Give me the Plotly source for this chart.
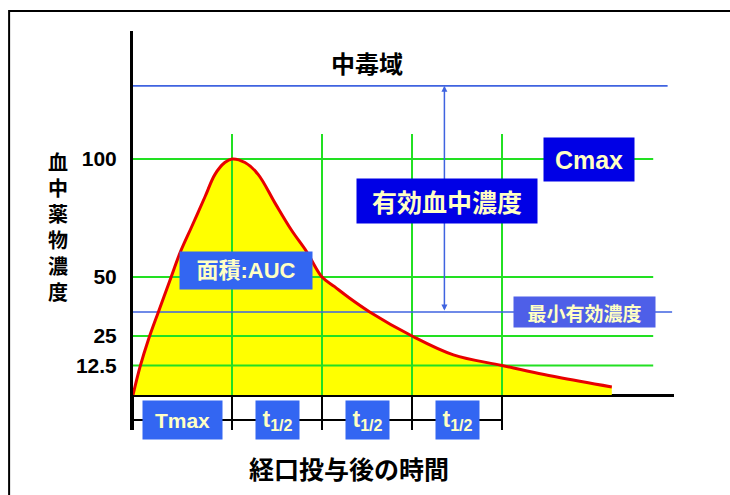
import plotly.graph_objects as go

# Plasma concentration after an oral dose (time in arbitrary units, concentration in % of Cmax)
time_pts = [0.0, 0.078, 0.17, 0.28, 0.41, 0.52, 0.652, 0.80, 0.911, 1.02, 1.1,
            1.244, 1.39, 1.58, 1.76, 1.93, 2.1, 2.24, 2.39, 2.63, 3.1, 3.56, 4.1, 4.71, 5.32]
conc_pts = [0.0, 11.9, 23.3, 35.0, 48.5, 60.0, 71.3, 84.0, 93.5, 98.5, 100.0,
            98.5, 93.5, 81.2, 69.9, 60.7, 50.0, 45.9, 41.5, 35.2, 25.0, 17.0, 12.5, 7.6, 3.4]

# Concentration gridlines and their labels
conc_ticks = [100, 50, 25, 12.5]
tick_labels = ["100", "50", "25", "12.5"]

# Time markers: Tmax followed by three elimination half-lives
phase_edges = [0.0, 1.1, 2.1, 3.1, 4.1]
phase_labels = ["Tmax", "t<sub>1/2</sub>", "t<sub>1/2</sub>", "t<sub>1/2</sub>"]

# Therapeutic window limits
toxic_level = 131.0   # lower edge of the toxic range
mec_level = 35.2      # minimum effective concentration

GREEN = "#22E022"
LINE_BLUE = "#3F63E0"
DARK_BLUE = "#0000E6"
MID_BLUE = "#3366F2"
MEC_BLUE = "#4E5FE8"
PALE = "#FFFFC4"
LATIN = "Liberation Sans, Noto Sans CJK JP"
CJK = "Noto Sans CJK JP"

Y_MIN, Y_MAX = -14.83, 154.24
X_MIN, X_MAX = 0.0, 6.011
grid_right = 5.78
vgrid_top = 110.6
bracket_y = -10.6
SMOOTH = 1.0

fig = go.Figure()

# Area under the curve
fig.add_trace(go.Scatter(
    x=time_pts, y=conc_pts, mode="lines",
    line=dict(width=0, shape="spline", smoothing=SMOOTH),
    fill="tozeroy", fillcolor="#FFFF00", hoverinfo="skip", showlegend=False))

# Green reference grid
gx, gy = [], []
for lv in conc_ticks:
    gx += [0, grid_right, None]
    gy += [lv, lv, None]
for e in phase_edges[1:]:
    gx += [e, e, None]
    gy += [0, vgrid_top, None]
fig.add_trace(go.Scatter(x=gx, y=gy, mode="lines", line=dict(color=GREEN, width=2),
                         hoverinfo="skip", showlegend=False))

# Toxic threshold and minimum effective concentration
fig.add_trace(go.Scatter(
    x=[0, 5.94, None, 0, 5.99], y=[toxic_level, toxic_level, None, mec_level, mec_level],
    mode="lines", line=dict(color=LINE_BLUE, width=1.6), hoverinfo="skip", showlegend=False))

# Concentration curve
fig.add_trace(go.Scatter(
    x=time_pts, y=conc_pts, mode="lines",
    line=dict(color="#E80000", width=3, shape="spline", smoothing=SMOOTH),
    hoverinfo="skip", showlegend=False))

# Time bracket under the axis
bx = [phase_edges[0], phase_edges[-1], None]
by = [bracket_y, bracket_y, None]
for e in phase_edges:
    bx += [e, e, None]
    by += [0, Y_MIN, None]
fig.add_trace(go.Scatter(x=bx, y=by, mode="lines", line=dict(color="black", width=2),
                         hoverinfo="skip", showlegend=False))

annotations = []

# Double-headed arrow spanning the therapeutic window
annotations.append(dict(
    x=3.46, y=toxic_level, ax=3.46, ay=mec_level, xref="x", yref="y", axref="x", ayref="y",
    text="", showarrow=True, arrowhead=2, startarrowhead=2, arrowside="end+start",
    arrowsize=0.8, arrowwidth=1.5, arrowcolor=LINE_BLUE))


def box(x, y, text, w, h, bg, size, font=LATIN, xref="x", yref="y"):
    annotations.append(dict(
        x=x, y=y, xref=xref, yref=yref, text=text, showarrow=False,
        xanchor="center", yanchor="middle", width=w, height=h, bgcolor=bg,
        borderpad=0, align="center", valign="middle",
        font=dict(family=font, size=size, color=PALE, weight="bold")))


box(5.07, 100, "Cmax", 90, 43, DARK_BLUE, 25)
box(3.49, 82.2, "有効血中濃度", 180, 44, DARK_BLUE, 25, CJK)
box(1.256, 52.8, "面積:AUC", 132, 37, MID_BLUE, 22)
box(5.02, mec_level, "最小有効濃度", 141, 30, MEC_BLUE, 19, CJK)

box_widths = [79, 43, 43, 43]
for i, lab in enumerate(phase_labels):
    mid = (phase_edges[i] + phase_edges[i + 1]) / 2
    size = 21 if i == 0 else 23
    box(mid, bracket_y, lab, box_widths[i], 38, MID_BLUE, size)

# Region and axis captions
annotations.append(dict(
    x=2.6, y=140.7, xref="x", yref="y", text="中毒域", showarrow=False,
    xanchor="center", yanchor="middle",
    font=dict(family=CJK, size=24, color="black", weight="bold")))
annotations.append(dict(
    x=-0.1386, y=0.51, xref="paper", yref="paper",
    text="血<br>中<br>薬<br>物<br>濃<br>度", showarrow=False,
    xanchor="center", yanchor="middle",
    font=dict(family=CJK, size=20, color="black", weight="bold")))
annotations.append(dict(
    x=0.399, y=-0.095, xref="paper", yref="paper", text="経口投与後の時間",
    showarrow=False, xanchor="center", yanchor="middle",
    font=dict(family=CJK, size=25, color="black", weight="bold")))

fig.update_layout(
    width=730, height=495,
    margin=dict(l=133, r=56, t=31, b=65),
    paper_bgcolor="white", plot_bgcolor="white",
    annotations=annotations,
    shapes=[dict(type="rect", xref="paper", yref="paper",
                 x0=-0.229, x1=1.122, y0=-0.188, y1=1.050,
                 line=dict(color="black", width=2), layer="above")],
    xaxis=dict(range=[X_MIN, X_MAX], showgrid=False, zeroline=False, showline=False,
               showticklabels=False, ticks=""),
    yaxis=dict(range=[Y_MIN, Y_MAX], showgrid=False,
               zeroline=True, zerolinecolor="black", zerolinewidth=3,
               showline=True, linecolor="black", linewidth=3,
               tickmode="array", tickvals=conc_ticks, ticktext=tick_labels, ticks="",
               ticklabelstandoff=9,
               tickfont=dict(family="Liberation Sans", size=21, color="black", weight="bold")),
)

fig.write_html("out.html")
